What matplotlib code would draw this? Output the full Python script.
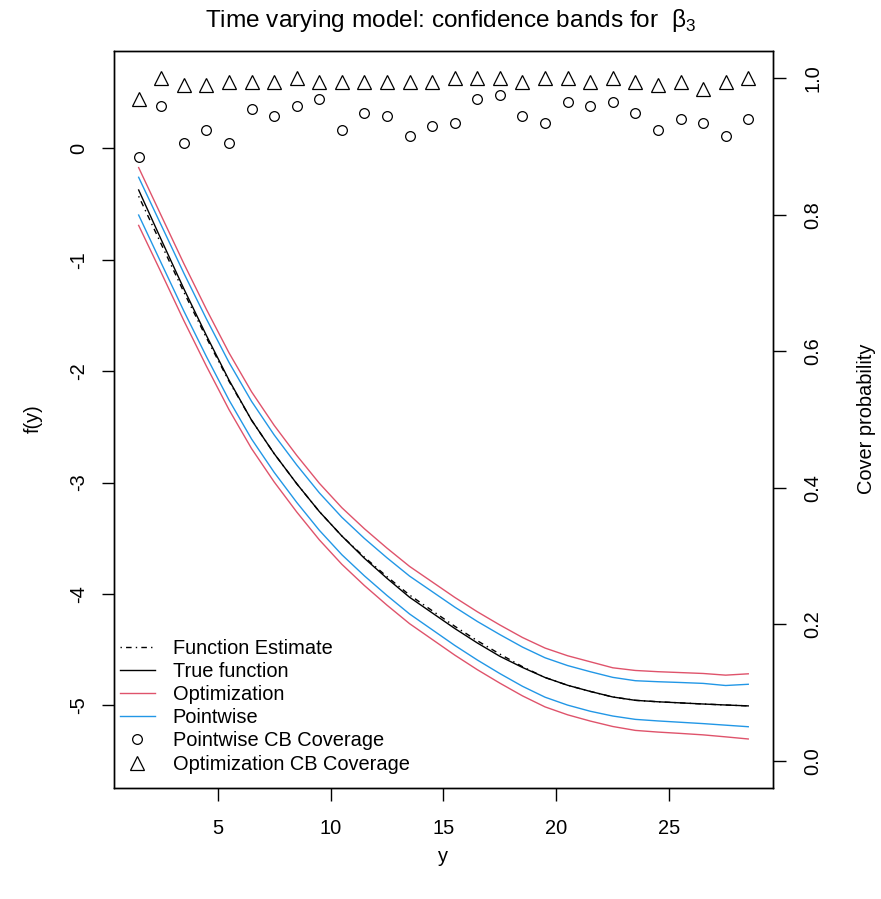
import numpy as np
import matplotlib.pyplot as plt
from matplotlib.lines import Line2D

plt.rcParams['font.family'] = ['Liberation Sans', 'DejaVu Sans']
plt.rcParams['mathtext.fontset'] = 'custom'
plt.rcParams['mathtext.rm'] = 'Liberation Sans'

# grid of y values
yy = [1.5, 2.5, 3.5, 4.5, 5.5, 6.5, 7.5, 8.5, 9.5, 10.5, 11.5, 12.5, 13.5, 14.5,
      15.5, 16.5, 17.5, 18.5, 19.5, 20.5, 21.5, 22.5, 23.5, 24.5, 25.5, 26.5, 27.5, 28.5]

true_f = [-0.374, -0.82, -1.26, -1.68, -2.08, -2.44, -2.74, -3.01, -3.26, -3.48, -3.68, -3.86,
          -4.03, -4.17, -4.31, -4.44, -4.56, -4.66, -4.75, -4.82, -4.875, -4.925, -4.955,
          -4.968, -4.978, -4.988, -4.997, -5.005]
est_f = [-0.43, -0.86, -1.29, -1.70, -2.09, -2.44, -2.74, -3.01, -3.26, -3.48, -3.67, -3.845,
         -4.01, -4.15, -4.29, -4.42, -4.54, -4.653, -4.75, -4.82, -4.875, -4.925, -4.955,
         -4.968, -4.978, -4.988, -4.997, -5.005]

opt_up = [-0.173, -0.604, -1.034, -1.445, -1.835, -2.185, -2.486, -2.756, -3.006, -3.226,
          -3.415, -3.589, -3.753, -3.892, -4.031, -4.16, -4.279, -4.391, -4.486, -4.555,
          -4.609, -4.663, -4.687, -4.698, -4.706, -4.714, -4.729, -4.717]
opt_lo = [-0.692, -1.116, -1.546, -1.955, -2.345, -2.695, -2.994, -3.264, -3.514, -3.734,
          -3.925, -4.101, -4.267, -4.408, -4.549, -4.68, -4.801, -4.915, -5.014, -5.085,
          -5.141, -5.19, -5.225, -5.24, -5.252, -5.265, -5.283, -5.302]
pw_up = [-0.26, -0.69, -1.12, -1.531, -1.921, -2.271, -2.572, -2.842, -3.092, -3.312,
         -3.502, -3.676, -3.84, -3.979, -4.118, -4.247, -4.365, -4.477, -4.573, -4.643,
         -4.698, -4.749, -4.779, -4.788, -4.795, -4.803, -4.822, -4.811]
pw_lo = [-0.599, -1.03, -1.46, -1.869, -2.259, -2.609, -2.908, -3.178, -3.428, -3.648,
         -3.838, -4.014, -4.18, -4.321, -4.462, -4.593, -4.715, -4.829, -4.927, -4.998,
         -5.053, -5.096, -5.126, -5.14, -5.152, -5.164, -5.178, -5.192]

# coverage probabilities
cov_pw = [0.885, 0.96, 0.905, 0.925, 0.905, 0.955, 0.945, 0.96, 0.97, 0.925, 0.95, 0.945,
          0.915, 0.93, 0.935, 0.97, 0.975, 0.945, 0.935, 0.965, 0.96, 0.965, 0.95, 0.925,
          0.94, 0.935, 0.915, 0.94]
cov_opt = [0.97, 1.0, 0.99, 0.99, 0.995, 0.995, 0.995, 1.0, 0.995, 0.995, 0.995, 0.995,
           0.995, 0.995, 1.0, 1.0, 1.0, 0.995, 1.0, 1.0, 0.995, 1.0, 0.995, 0.99, 0.995,
           0.985, 0.995, 1.0]

red = '#DF536B'
blue = '#2297E6'
fs = 14.4

fig = plt.figure(figsize=(8.81, 8.99), dpi=100)
ax = fig.add_axes([0.1297, 0.1231, 0.7473, 0.8201])

ax.plot(yy, est_f, color='black', lw=1.0, linestyle=(0, (1, 3, 4, 3)))
ax.plot(yy, true_f, color='black', lw=1.0)
ax.plot(yy, opt_up, color=red, lw=1.0)
ax.plot(yy, opt_lo, color=red, lw=1.0)
ax.plot(yy, pw_up, color=blue, lw=1.0)
ax.plot(yy, pw_lo, color=blue, lw=1.0)

ax.set_xlim(0.42, 29.58)
ax.set_ylim(-5.745, 0.873)
ax.set_xticks([5, 10, 15, 20, 25])
ax.set_yticks([-5, -4, -3, -2, -1, 0])
ax.set_yticklabels(['-5', '-4', '-3', '-2', '-1', '0'])

ax2 = ax.twinx()
ax2.plot(yy, cov_pw, linestyle='none', marker='o', markersize=7, mfc='none',
         mec='black', mew=0.9)
ax2.plot(yy, cov_opt, linestyle='none', marker='^', markersize=9.5, mfc='none',
         mec='black', mew=0.9)
ax2.set_ylim(-0.04, 1.04)
ax2.set_yticks([0.0, 0.2, 0.4, 0.6, 0.8, 1.0])
ax2.set_yticklabels(['0.0', '0.2', '0.4', '0.6', '0.8', '1.0'])

for a in (ax, ax2):
    for s in a.spines.values():
        s.set_linewidth(1.0)
    a.tick_params(length=9, width=1.0, labelsize=fs)
ax.tick_params(axis='x', pad=13)
ax.tick_params(axis='y', pad=10, labelrotation=90)
ax2.tick_params(axis='y', pad=13, labelrotation=90)
for t in ax.get_yticklabels():
    t.set_va('center')
for t in ax2.get_yticklabels():
    t.set_va('center')

handles = [
    Line2D([], [], color='black', lw=1.0, linestyle=(0, (1, 3, 4, 3))),
    Line2D([], [], color='black', lw=1.0),
    Line2D([], [], color=red, lw=1.0),
    Line2D([], [], color=blue, lw=1.0),
    Line2D([], [], linestyle='none', marker='o', markersize=7, mfc='none', mec='black', mew=0.9),
    Line2D([], [], linestyle='none', marker='^', markersize=9.5, mfc='none', mec='black', mew=0.9),
]
labels = ['Function Estimate', 'True function', 'Optimization', 'Pointwise',
          'Pointwise CB Coverage', 'Optimization CB Coverage']
ax2.legend(handles, labels, loc='lower left', bbox_to_anchor=(0.008, 0.02),
           frameon=False, fontsize=fs, handlelength=1.75, handletextpad=0.9,
           labelspacing=0.21, borderpad=0, borderaxespad=0)

fig.text(451 / 881, 1 - 20 / 899, 'Time varying model: confidence bands for  \u03b2$_3$',
         ha='center', va='center', fontsize=17.6)
fig.text(33 / 881, 1 - 419 / 899, 'f(y)', rotation=90, ha='center', va='center', fontsize=fs)
fig.text(443 / 881, 1 - 857 / 899, 'y', ha='center', va='center', fontsize=fs)
fig.text(867 / 881, 1 - 419 / 899, 'Cover probability', rotation=90, ha='center',
         va='center', fontsize=fs)

fig.savefig('out.png', dpi=100)
